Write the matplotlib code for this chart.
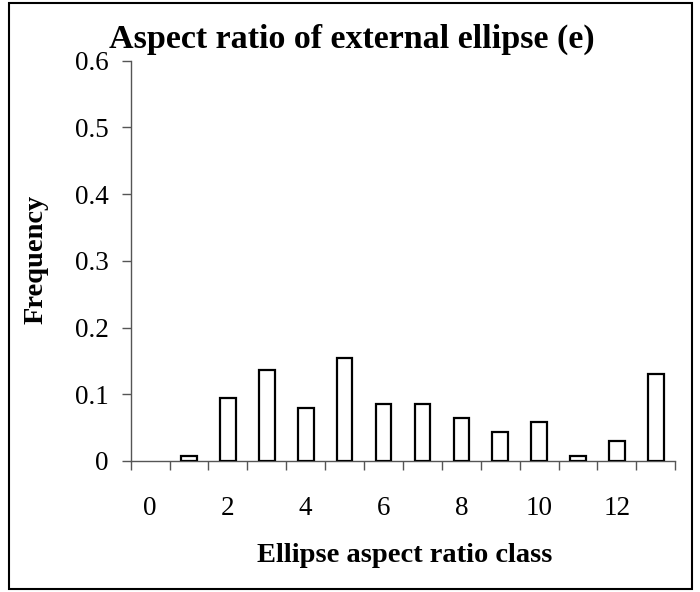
import matplotlib
matplotlib.use("Agg")
import matplotlib.pyplot as plt
from matplotlib.patches import Rectangle
import numpy as np

categories = list(range(14))
frequency = [0.0, 0.008, 0.094, 0.137, 0.080, 0.154, 0.086, 0.086, 0.064, 0.043, 0.059, 0.008, 0.030, 0.131]
y_ticks = [0, 0.1, 0.2, 0.3, 0.4, 0.5, 0.6]
y_tick_labels = ["0", "0.1", "0.2", "0.3", "0.4", "0.5", "0.6"]
x_label_cats = [0, 2, 4, 6, 8, 10, 12]
title = "Aspect ratio of external ellipse (e)"
xlabel = "Ellipse aspect ratio class"
ylabel = "Frequency"

plt.rcParams['font.family'] = ['Liberation Serif', 'DejaVu Serif']

W, H = 700, 592
PX = 72 / 100  # points per pixel
fig = plt.figure(figsize=(W/100, H/100), dpi=100)
fig.patch.set_facecolor('white')

x0, x1, y0, y1 = 130.7, 675.3, 60.7, 461.0
ax = fig.add_axes([x0/W, 1 - y1/H, (x1-x0)/W, (y1-y0)/H])

edge_colors = ['black' if v > 0 else 'none' for v in frequency]
ax.bar(categories, frequency, width=0.4, facecolor='white', edgecolor=edge_colors, linewidth=1.6, zorder=3)

ax.set_xlim(-0.5, 13.5)
ax.set_ylim(0, 0.6)

axis_color = '#555555'
for s in ['top', 'right']:
    ax.spines[s].set_visible(False)
for s in ['left', 'bottom']:
    ax.spines[s].set_color(axis_color)
    ax.spines[s].set_linewidth(1.0)

ax.set_xticks(np.arange(-0.5, 14, 1.0))
ax.set_xticklabels([])
ax.set_xticks(x_label_cats, minor=True)
ax.set_xticklabels([str(c) for c in x_label_cats], minor=True)
ax.tick_params(axis='x', which='major', direction='out', length=9*PX, width=1.0, color=axis_color)
ax.tick_params(axis='x', which='minor', length=0, pad=35*PX, labelsize=19.5)

ax.set_yticks(y_ticks)
ax.set_yticklabels(y_tick_labels)
ax.tick_params(axis='y', direction='out', length=9*PX, width=1.0, color=axis_color, pad=13*PX, labelsize=19.5)

fig.text(352/W, 1 - 48/H, title, ha='center', va='baseline', fontsize=24.5, fontweight='bold')
fig.text(36/W, 1 - 259/H, ylabel, ha='center', va='center', rotation=90, fontsize=20.5, fontweight='bold')
fig.text(405/W, 1 - 556/H, xlabel, ha='center', va='center', fontsize=20.5, fontweight='bold')

fig.add_artist(Rectangle((9.3/W, 1 - 589/H), (691.7-9.3)/W, (589-2.7)/H,
                         transform=fig.transFigure, fill=False, edgecolor='black', linewidth=1.5))

fig.savefig('out.png', dpi=100)
